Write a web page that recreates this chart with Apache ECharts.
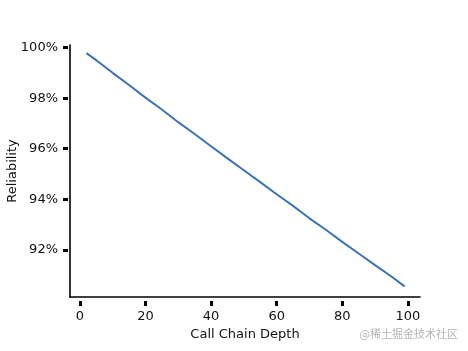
<!DOCTYPE html>
<html>
<head>
<meta charset="utf-8">
<script src="https://cdn.jsdelivr.net/npm/echarts@6/dist/echarts.min.js"></script>
<style>
  html, body { margin: 0; padding: 0; background: #fff; }
  #chart { width: 468px; height: 351px; }
</style>
</head>
<body>
<div id="chart"></div>
<script>
// call chain depth vs reliability (%)
const depth = [2, 5, 10, 15, 20, 25, 30, 35, 40, 45, 50, 55, 60, 65, 70, 75, 80, 85, 90, 95, 99];
const reliability = [99.78, 99.5, 99.0, 98.52, 98.02, 97.55, 97.05, 96.58, 96.1, 95.62, 95.15, 94.68, 94.2, 93.74, 93.25, 92.8, 92.32, 91.86, 91.4, 90.95, 90.56];
const xTicks = [0, 20, 40, 60, 80, 100];
const yTicks = [92, 94, 96, 98, 100];

const font = 'DejaVu Sans';
const chart = echarts.init(document.getElementById('chart'), null, { renderer: 'canvas' });

const xRange = { min: -3, max: 103.7 };
const yRange = { min: 90.14, max: 100.1 };

const option = {
  animation: false,
  backgroundColor: '#ffffff',
  grid: { left: 70, right: 48, top: 45, bottom: 54, containLabel: false, outerBoundsMode: 'none' },
  xAxis: [
    {
      type: 'value', ...xRange,
      axisLine: { show: true, onZero: false, lineStyle: { color: '#000', width: 1.6 } },
      axisTick: { show: false }, axisLabel: { show: false }, splitLine: { show: false }
    },
    {
      type: 'value', ...xRange, position: 'bottom', offset: 4,
      axisLine: { show: false, onZero: false },
      axisTick: { show: true, length: 5, customValues: xTicks, lineStyle: { color: '#000', width: 3 } },
      axisLabel: {
        customValues: xTicks, margin: 9, color: '#111', fontFamily: font, fontSize: 13
      },
      splitLine: { show: false },
      name: 'Call Chain Depth', nameLocation: 'middle', nameGap: 27,
      nameTextStyle: { color: '#111', fontFamily: font, fontSize: 13 }
    }
  ],
  yAxis: [
    {
      type: 'value', ...yRange,
      axisLine: { show: true, onZero: false, lineStyle: { color: '#000', width: 1.6 } },
      axisTick: { show: false }, axisLabel: { show: false }, splitLine: { show: false }
    },
    {
      type: 'value', ...yRange, position: 'left', offset: 2,
      axisLine: { show: false, onZero: false },
      axisTick: { show: true, length: 5, customValues: yTicks, lineStyle: { color: '#000', width: 3 } },
      axisLabel: {
        customValues: yTicks, margin: 10, color: '#111', fontFamily: font, fontSize: 13,
        formatter: v => v + '%'
      },
      splitLine: { show: false },
      name: 'Reliability', nameLocation: 'middle', nameGap: 49, nameRotate: 90,
      nameMoveOverlap: false,
      nameTextStyle: { color: '#111', fontFamily: font, fontSize: 13 }
    }
  ],
  series: [
    {
      type: 'line',
      xAxisIndex: 0, yAxisIndex: 0,
      data: depth.map((d, i) => [d, reliability[i]]),
      showSymbol: false,
      smooth: false,
      lineStyle: { color: '#3b74b0', width: 2 }
    }
  ],
  graphic: [
    {
      type: 'text', right: 10, bottom: 12,
      style: { text: '@稀土掘金技术社区', fill: '#b5b5b5', font: '11px "Noto Sans CJK SC"' }
    }
  ]
};

chart.setOption(option);
</script>
</body>
</html>
